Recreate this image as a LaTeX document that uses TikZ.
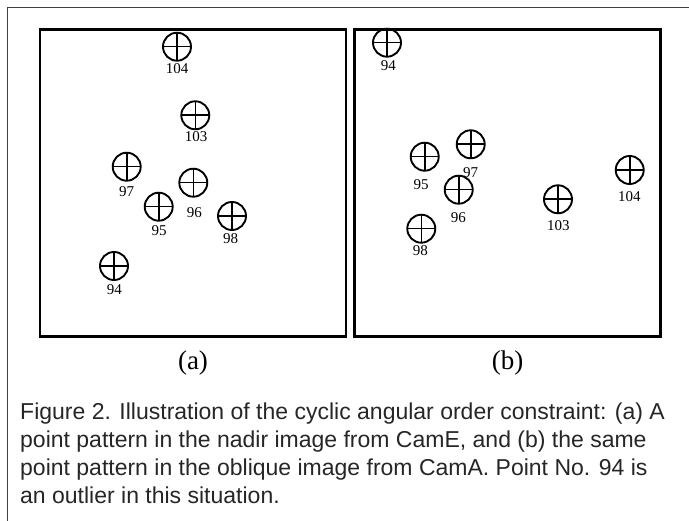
\documentclass[tikz,border=0pt]{standalone}
\usepackage{fontspec}
\setmainfont{Liberation Serif}
\newfontfamily\capfont{Liberation Sans}
\begin{document}
\begin{tikzpicture}[x=1pt, y=-1pt,
  panel/.style={draw=black, line width=2.4pt, minimum width=306pt, minimum height=307pt, inner sep=0pt},
  marker/.style={circle, draw=black, line width=1.9pt, minimum size=28pt, inner sep=0pt,
    path picture={\draw[line width=1.6pt]
      (path picture bounding box.north) -- (path picture bounding box.south)
      (path picture bounding box.west) -- (path picture bounding box.east);}},
  ptlabel/.style={inner sep=0pt, font=\fontsize{15}{15}\selectfont},
  sublabel/.style={inner sep=0pt, font=\fontsize{27}{27}\selectfont},
  capline/.style={anchor=base west, inner sep=0pt, text=black!85, font=\capfont\fontsize{23}{28}\selectfont}
]
\useasboundingbox (0,0) rectangle (689,521);

% outer frame (top and left edges only)
\draw[black!75, line width=1.3pt] (7.5,521) -- (7.5,7.5) -- (689,7.5);

% the two image panels
\node[panel] (pa) at (193,183.2) {};
\node[panel] (pb) at (507.5,183.2) {};
\node[sublabel] (la) at (193,363) {(a)};
\node[sublabel] (lb) at (507.5,363) {(b)};

% panel (a): nadir image
\node[marker] (a104) at (177,46.7) {};
\node[ptlabel] (t104a) at (177,69) {104};
\node[marker] (a103) at (195.3,115.3) {};
\node[ptlabel] (t103a) at (196,137) {103};
\node[marker] (a97) at (126.7,166.7) {};
\node[ptlabel] (t97a) at (126.7,191.7) {97};
\node[marker] (a96) at (193.3,182.7) {};
\node[ptlabel] (t96a) at (194.3,212.7) {96};
\node[marker] (a95) at (158.7,206.7) {};
\node[ptlabel] (t95a) at (159,231) {95};
\node[marker] (a98) at (232,216) {};
\node[ptlabel] (t98a) at (230.7,238.7) {98};
\node[marker] (a94) at (114,266) {};
\node[ptlabel] (t94a) at (114.3,289.3) {94};

% panel (b): oblique image
\node[marker] (b94) at (387,42.7) {};
\node[ptlabel] (t94b) at (388.3,65.7) {94};
\node[marker] (b95) at (424.7,156.7) {};
\node[ptlabel] (t95b) at (421,184.3) {95};
\node[marker] (b97) at (470.7,144.3) {};
\node[ptlabel] (t97b) at (470.7,172.7) {97};
\node[marker] (b96) at (458.7,189.7) {};
\node[ptlabel] (t96b) at (458.3,217.3) {96};
\node[marker] (b98) at (421.3,228.7) {};
\node[ptlabel] (t98b) at (420.3,250.7) {98};
\node[marker] (b103) at (558,199.3) {};
\node[ptlabel] (t103b) at (558.3,226) {103};
\node[marker] (b104) at (629.7,170) {};
\node[ptlabel] (t104b) at (629.3,196.7) {104};

% caption
\node[capline] (cap1) at (20,420) {Figure 2. Illustration of the cyclic angular order constraint: (a) A};
\node[capline] (cap2) at (20,448) {point pattern in the nadir image from CamE, and (b) the same};
\node[capline] (cap3) at (20,476) {point pattern in the oblique image from CamA. Point No. 94 is};
\node[capline] (cap4) at (20,504) {an outlier in this situation.};
\end{tikzpicture}
\end{document}
